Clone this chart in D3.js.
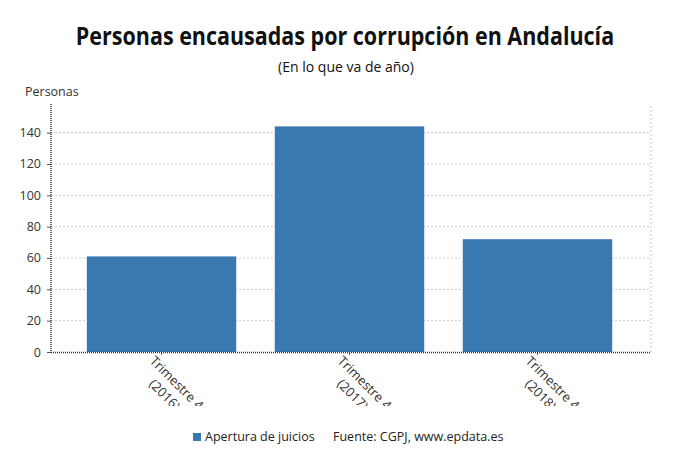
<!DOCTYPE html>
<html><head><meta charset="utf-8">
<script src="https://cdn.jsdelivr.net/npm/d3@7/dist/d3.min.js"></script>
<style>body{margin:0;background:#fff}text{font-family:"Open Sans",sans-serif}</style>
</head><body>
<svg id="c" width="690" height="465"></svg>
<script>
const categories = ["Trimestre 4 (2016)", "Trimestre 4 (2017)", "Trimestre 4 (2018)"];
const labelLine1 = ["Trimestre 4", "Trimestre 4", "Trimestre 4"];
const labelLine2 = ["(2016)", "(2017)", "(2018)"];
const values = [61, 144, 72];
const yTicks = [0, 20, 40, 60, 80, 100, 120, 140];
const seriesName = "Apertura de juicios";
const source = "Fuente: CGPJ, www.epdata.es";
const title = "Personas encausadas por corrupción en Andalucía";
const subtitle = "(En lo que va de año)";
const yTitle = "Personas";

const svg = d3.select("#c");
const L = 51, R = 651, T = 106, B = 352;
const color = "#3a78b2";

const y = d3.scaleLinear().domain([0, 157]).range([B, T]);
const x = d3.scaleBand().domain(categories).range([68, 631]).paddingInner(0.205).paddingOuter(0.1);

// gridlines
svg.append("g").selectAll("line").data(yTicks.filter(d => d > 0)).join("line")
  .attr("x1", L).attr("x2", R).attr("y1", d => y(d)).attr("y2", d => y(d))
  .attr("stroke", "#c8c8c8").attr("stroke-dasharray", "2,2").attr("stroke-width", 1);
svg.append("line").attr("x1", R).attr("x2", R).attr("y1", T).attr("y2", B)
  .attr("stroke", "#c8c8c8").attr("stroke-dasharray", "2,2");

// bars
svg.append("g").selectAll("rect").data(values).join("rect")
  .attr("x", (d, i) => x(categories[i])).attr("width", x.bandwidth())
  .attr("y", d => y(d)).attr("height", d => B - y(d))
  .attr("fill", color);

// y axis
const yAxis = svg.append("g").attr("transform", `translate(${L},0)`)
  .call(d3.axisLeft(y).tickValues(yTicks).tickSize(4).tickPadding(6));
yAxis.select(".domain").remove();
yAxis.selectAll("text").attr("font-size", 12.5).attr("fill", "#333");
yAxis.selectAll(".tick line").attr("stroke", "#555");
svg.append("line").attr("x1", L).attr("x2", L).attr("y1", T - 2).attr("y2", B)
  .attr("stroke", "#333").attr("stroke-dasharray", "1,1").attr("stroke-width", 1.5);

// x axis
const xAxis = svg.append("g").attr("transform", `translate(0,${B})`)
  .call(d3.axisBottom(x).tickSize(3).tickFormat(""));
xAxis.select(".domain").remove();
xAxis.selectAll(".tick line").attr("stroke", "#555");
svg.append("line").attr("x1", L).attr("x2", R).attr("y1", B + 0.5).attr("y2", B + 0.5)
  .attr("stroke", "#333").attr("stroke-dasharray", "1,1").attr("stroke-width", 1.5);

// x labels (clipped like the reference)
svg.append("clipPath").attr("id", "clipx").append("rect")
  .attr("x", 0).attr("y", B).attr("width", 690).attr("height", 54);
const lab = svg.append("g").attr("clip-path", "url(#clipx)");
categories.forEach((c, i) => {
  const cx = x(c) + x.bandwidth() / 2;
  const t = lab.append("text").attr("transform", `translate(${cx - 6},${B + 3}) rotate(45)`)
    .attr("font-size", 13).attr("fill", "#333");
  t.append("tspan").attr("x", 0).attr("dy", "0.72em").text(labelLine1[i]);
  t.append("tspan").attr("x", 0).attr("dy", "1.3em").text(labelLine2[i]);
});
lab.selectAll("text").each(function() {
  const ts = d3.select(this).selectAll("tspan").nodes();
  const w1 = ts[0].getComputedTextLength(), w2 = ts[1].getComputedTextLength();
  d3.select(ts[1]).attr("x", (w1 - w2) / 2);
});

// titles
svg.append("text").attr("transform", "translate(345,45) scale(0.86,1)").attr("text-anchor", "middle")
  .attr("font-size", 25).attr("font-weight", 700).attr("fill", "#111").text(title);
svg.append("text").attr("x", 346).attr("y", 72).attr("text-anchor", "middle")
  .attr("font-size", 14).attr("fill", "#111").text(subtitle);
svg.append("text").attr("x", 25).attr("y", 96)
  .attr("font-size", 12.5).attr("fill", "#333").text(yTitle);

// legend
svg.append("rect").attr("x", 193).attr("y", 433).attr("width", 8).attr("height", 8).attr("fill", color);
svg.append("text").attr("x", 205).attr("y", 441).attr("font-size", 12.5).attr("fill", "#222").text(seriesName);
svg.append("text").attr("x", 333).attr("y", 441).attr("font-size", 12.5).attr("fill", "#222").text(source);
</script>
</body></html>
